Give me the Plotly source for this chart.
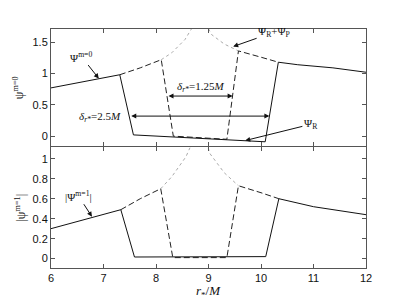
import plotly.graph_objects as go
from plotly.subplots import make_subplots

# ---- data: m=0 panel ----
full0_x = [6.0, 6.5, 7.0, 7.31, 7.7, 8.1, 8.3, 8.55, 8.85, 9.06, 9.3, 9.57, 10.0, 10.33, 10.7, 11.37, 12.0]
full0_y = [0.77, 0.85, 0.93, 0.98, 1.09, 1.22, 1.33, 1.54, 1.95, 1.62, 1.47, 1.36, 1.26, 1.18, 1.14, 1.09, 1.02]
# delta = 2.5M (solid)
sol0_x = [6.0, 6.5, 7.0, 7.31, 7.57, 10.08, 10.33, 10.7, 11.37, 12.0]
sol0_y = [0.77, 0.85, 0.93, 0.98, 0.02, -0.09, 1.18, 1.14, 1.09, 1.02]
# delta = 1.25M (dashed)
das0_x = [7.31, 7.7, 8.1, 8.33, 9.35, 9.57, 10.0, 10.33]
das0_y = [0.98, 1.09, 1.22, 0.0, -0.05, 1.36, 1.26, 1.18]
# full field near the particle (dotted)
dot0_x = [8.1, 8.3, 8.55, 8.85, 9.06, 9.3, 9.57]
dot0_y = [1.22, 1.33, 1.54, 1.95, 1.62, 1.47, 1.36]

# ---- data: m=1 panel ----
sol1_x = [6.0, 6.5, 7.0, 7.33, 7.59, 10.09, 10.34, 11.0, 12.0]
sol1_y = [0.30, 0.37, 0.44, 0.49, 0.016, 0.02, 0.60, 0.52, 0.44]
das1_x = [7.33, 7.7, 8.09, 8.32, 9.35, 9.57, 10.0, 10.34]
das1_y = [0.49, 0.60, 0.70, 0.01, 0.01, 0.73, 0.66, 0.60]
dot1_x = [8.09, 8.3, 8.57, 8.85, 9.03, 9.3, 9.57]
dot1_y = [0.70, 0.82, 1.02, 1.35, 1.05, 0.86, 0.73]

xticks = [6, 7, 8, 9, 10, 11, 12]
yticks0 = [0, 0.5, 1, 1.5]
yticks1 = [0, 0.2, 0.4, 0.6, 0.8, 1]

fig = make_subplots(rows=2, cols=1, shared_xaxes=True, vertical_spacing=0)

def add(x, y, row, dash, color, width=1):
    fig.add_trace(go.Scatter(x=x, y=y, mode="lines",
                             line=dict(color=color, width=width, dash=dash),
                             showlegend=False, hoverinfo="skip"), row=row, col=1)

add(dot0_x, dot0_y, 1, "dot", "#aaaaaa")
add(das0_x, das0_y, 1, "6px,3px", "#222222")
add(sol0_x, sol0_y, 1, "solid", "#111111")
add(dot1_x, dot1_y, 2, "dot", "#aaaaaa")
add(das1_x, das1_y, 2, "6px,3px", "#222222")
add(sol1_x, sol1_y, 2, "solid", "#111111")

axis_common = dict(showgrid=False, zeroline=False, showline=True, mirror="ticks",
                   linecolor="#555555", linewidth=1, ticks="inside", ticklen=4,
                   tickcolor="#555555", automargin=False,
                   tickfont=dict(family="Liberation Sans", size=11, color="#111111"))

plot_h = 239
split = 0.5063
fig.update_xaxes(range=[6, 12], tickvals=xticks, **axis_common)
fig.update_xaxes(showticklabels=False, row=1, col=1)
fig.update_yaxes(range=[-0.165, 1.71], tickvals=yticks0, ticktext=["0", "0.5", "1", "1.5"],
                 domain=[split + 0.5 / plot_h, 1],
                 title=dict(text="ψ<sup>m=0</sup>", standoff=6,
                            font=dict(family="Liberation Serif", size=12, color="#111111")),
                 row=1, col=1, **axis_common)
fig.update_yaxes(range=[-0.094, 1.113], tickvals=yticks1,
                 ticktext=["0", "0.2", "0.4", "0.6", "0.8", "1"],
                 domain=[0, split - 0.5 / plot_h],
                 title=dict(text="|ψ<sup>m=1</sup>|", standoff=4,
                            font=dict(family="Liberation Serif", size=12, color="#111111")),
                 row=2, col=1, **axis_common)

afont = dict(family="Liberation Serif", size=11, color="#111111")

def arrow(tipx, tipy, tailx, taily, xr, yr, text="", side="end"):
    fig.add_annotation(x=tipx, y=tipy, ax=tailx, ay=taily, xref=xr, yref=yr,
                       axref=xr, ayref=yr, text=text, showarrow=True,
                       arrowhead=2, arrowsize=1, arrowwidth=1, arrowcolor="#111111",
                       arrowside=side, font=afont)

# top panel
arrow(6.91, 0.92, 6.58, 1.27, "x", "y", "Ψ<sup>m=0</sup>")
arrow(9.47, 1.43, 10.25, 1.66, "x", "y", "Ψ<sub>R</sub>+Ψ<sub>P</sub>")
arrow(9.70, -0.07, 10.95, 0.19, "x", "y", "Ψ<sub>R</sub>")
arrow(9.46, 0.64, 8.21, 0.64, "x", "y", "", side="end+start")
arrow(10.16, 0.32, 7.50, 0.32, "x", "y", "", side="end+start")
fig.add_annotation(x=8.84, y=0.78, xref="x", yref="y", showarrow=False,
                   text="<i>δ<sub>r*</sub></i>=1.25<i>M</i>", font=afont)
fig.add_annotation(x=6.93, y=0.31, xref="x", yref="y", showarrow=False,
                   text="<i>δ<sub>r*</sub></i>=2.5<i>M</i>", font=afont)
# bottom panel
arrow(6.78, 0.42, 6.52, 0.63, "x2", "y2", "|Ψ<sup>m=1</sup>|")

# x-axis title placed just under the tick labels
fig.add_annotation(x=0.5, y=-0.1, xref="paper", yref="paper", showarrow=False,
                   yanchor="middle", text="<i>r</i><sub>*</sub>/<i>M</i>",
                   font=dict(family="Liberation Serif", size=13, color="#111111"))

# page body has an 8px default margin, so the figure is sized to fit inside it
fig.update_layout(width=399, height=298, margin=dict(l=43, r=41, t=21, b=38),
                  plot_bgcolor="white", paper_bgcolor="white", showlegend=False)

fig.write_html("out.html")
